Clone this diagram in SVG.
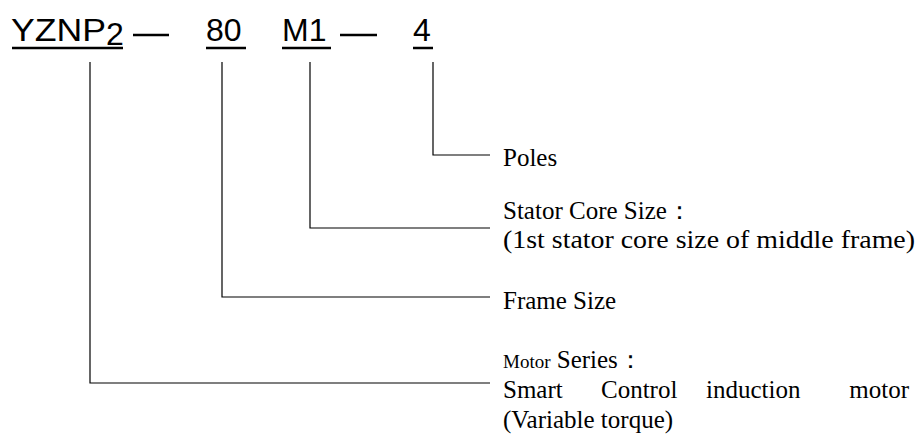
<svg xmlns="http://www.w3.org/2000/svg" width="924" height="448" viewBox="0 0 924 448">
<style>
.h{font-family:"Liberation Sans",Arial,sans-serif;font-size:32px;fill:#000}
.t{font-family:"Liberation Serif","Times New Roman",serif;font-size:25px;fill:#000}
.u{stroke:#000;stroke-width:2.5}
.c{fill:none;stroke:#000;stroke-width:1.2}
</style>
<rect width="924" height="448" fill="#fff"/>
<g id="code">
<text class="h" x="11" y="41" textLength="95" lengthAdjust="spacingAndGlyphs">YZNP</text>
<text class="h" x="106" y="45" font-size="25">2</text>
<line class="u" x1="12" y1="48" x2="123" y2="48"/>
<line class="u" x1="133" y1="35" x2="169" y2="35" stroke-width="2"/>
<text class="h" x="206" y="41">80</text>
<line class="u" x1="206" y1="48" x2="246" y2="48"/>
<text class="h" x="282" y="41">M1</text>
<line class="u" x1="282" y1="48" x2="331" y2="48"/>
<line class="u" x1="340" y1="35" x2="377" y2="35" stroke-width="2"/>
<text class="h" x="413" y="41">4</text>
<line class="u" x1="413" y1="48" x2="433" y2="48"/>
</g>
<g id="connectors">
<polyline class="c" points="433,62 433,155 490,155"/>
<polyline class="c" points="310,62 310,228 490,228"/>
<polyline class="c" points="222,62 222,297 490,297"/>
<polyline class="c" points="90,62 90,383 490,383"/>
</g>
<g id="poles"><text class="t" x="503" y="166">Poles</text></g>
<g id="stator">
<text class="t" x="503" y="219">Stator Core Size：</text>
<text class="t" x="503" y="248" textLength="412" lengthAdjust="spacingAndGlyphs">(1st stator core size of middle frame)</text>
</g>
<g id="frame"><text class="t" x="503" y="309">Frame Size</text></g>
<g id="series">
<text class="t" x="503" y="368"><tspan font-size="19">Motor</tspan> Series：</text>
<text class="t" x="503" y="398">Smart</text>
<text class="t" x="601" y="398" font-size="20">Control</text>
<text class="t" x="706" y="398">induction</text>
<text class="t" x="909" y="398" text-anchor="end">motor</text>
<text class="t" x="503" y="428">(Variable torque)</text>
</g>
</svg>
